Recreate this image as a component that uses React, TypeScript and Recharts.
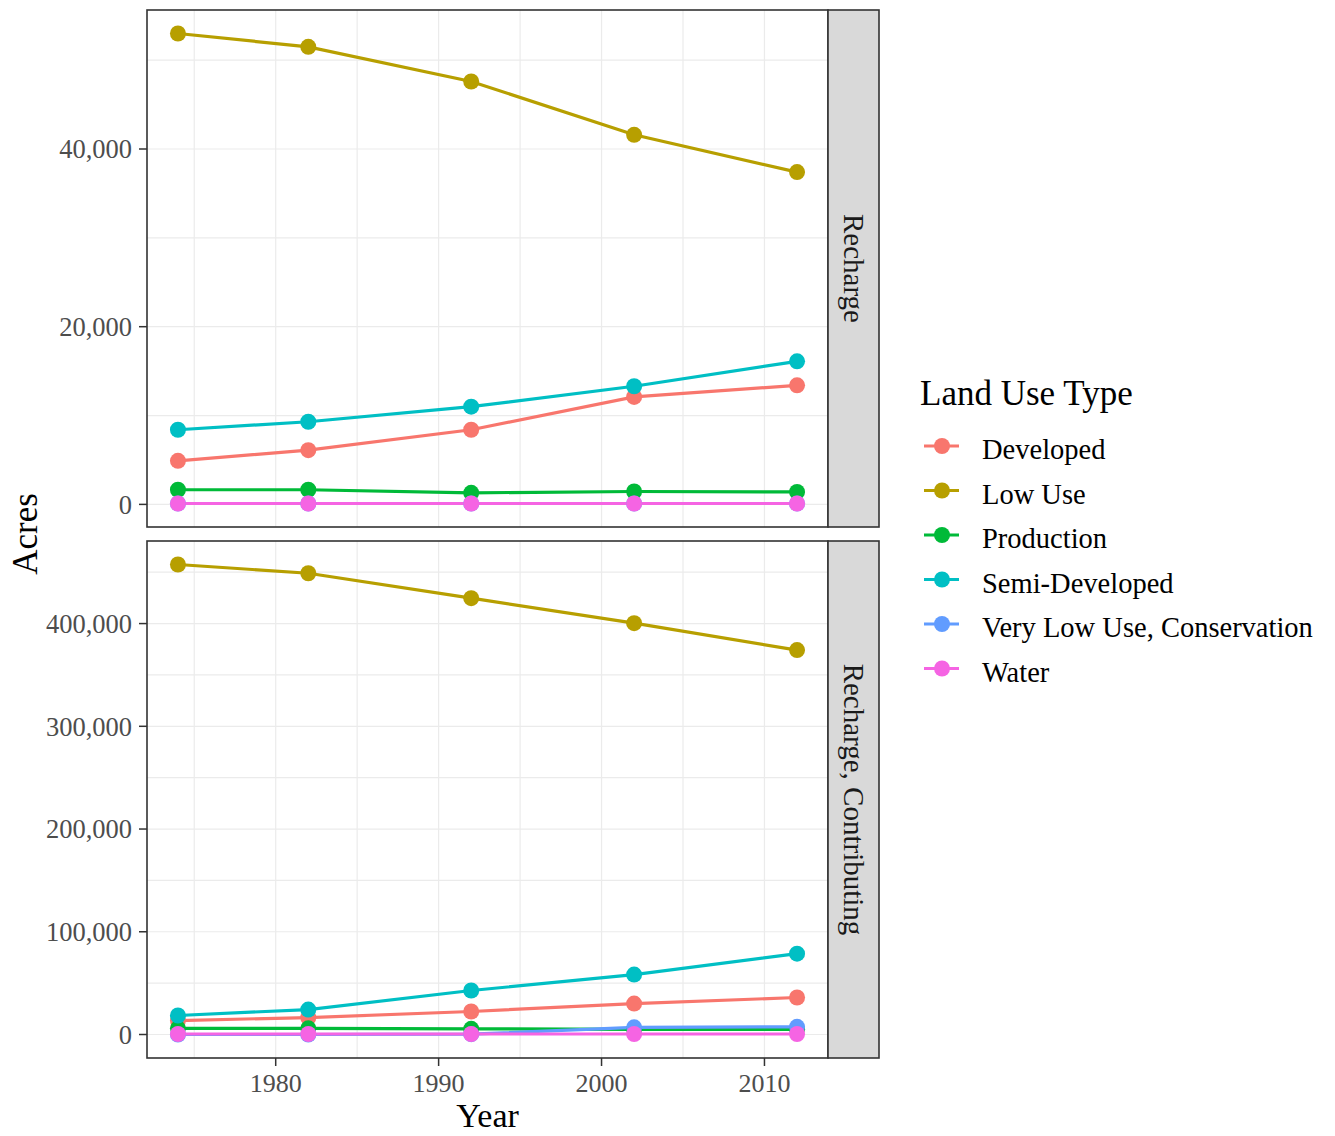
import React from "react";
import { LineChart, Line, XAxis, YAxis, CartesianGrid } from "recharts";

const years = [1974, 1982, 1992, 2002, 2012];
const seriesKeys = ["developed", "lowUse", "production", "semiDeveloped", "veryLowUse", "water"];
const seriesNames = ["Developed", "Low Use", "Production", "Semi-Developed", "Very Low Use, Conservation", "Water"];
const seriesColors = ["#F8766D", "#B79F00", "#00BA38", "#00BFC4", "#619CFF", "#F564E3"];

// Panel "Recharge"
const rechargeDeveloped = [4900, 6100, 8400, 12100, 13400];
const rechargeLowUse = [53000, 51500, 47600, 41600, 37400];
const rechargeProduction = [1650, 1650, 1300, 1450, 1400];
const rechargeSemiDeveloped = [8400, 9300, 11000, 13300, 16100];
const rechargeVeryLowUse = [100, 100, 100, 100, 100];
const rechargeWater = [100, 100, 100, 100, 100];

// Panel "Recharge, Contributing"
const contribDeveloped = [13600, 16500, 22400, 30100, 36000];
const contribLowUse = [457500, 449000, 424700, 400400, 374200];
const contribProduction = [6000, 6000, 5500, 5000, 5000];
const contribSemiDeveloped = [18500, 24300, 42800, 58300, 78700];
const contribVeryLowUse = [0, 0, 300, 7000, 7500];
const contribWater = [500, 500, 500, 500, 500];

const xTicks = [1980, 1990, 2000, 2010];
const xGrid = [1975, 1980, 1985, 1990, 1995, 2000, 2005, 2010];
const rechargeTicks = [0, 20000, 40000];
const rechargeGrid = [0, 10000, 20000, 30000, 40000, 50000];
const contribTicks = [0, 100000, 200000, 300000, 400000];
const contribGrid = [0, 50000, 100000, 150000, 200000, 250000, 300000, 350000, 400000, 450000];
const stripLabels = ["Recharge", "Recharge, Contributing"];

const FONT = "'Liberation Serif', 'Times New Roman', serif";

function buildRows(cols: number[][]) {
  return years.map((y, i) => {
    const row: Record<string, number> = { year: y };
    seriesKeys.forEach((k, j) => (row[k] = cols[j][i]));
    return row;
  });
}

function expandDomain(cols: number[][]): [number, number] {
  const all = cols.flat();
  const mn = Math.min(...all);
  const mx = Math.max(...all);
  const r = mx - mn;
  return [mn - 0.05 * r, mx + 0.05 * r];
}

const xr = years[years.length - 1] - years[0];
const xDomain: [number, number] = [years[0] - 0.05 * xr, years[years.length - 1] + 0.05 * xr];

const rechargeCols = [rechargeDeveloped, rechargeLowUse, rechargeProduction, rechargeSemiDeveloped, rechargeVeryLowUse, rechargeWater];
const contribCols = [contribDeveloped, contribLowUse, contribProduction, contribSemiDeveloped, contribVeryLowUse, contribWater];
const rechargeRows = buildRows(rechargeCols);
const contribRows = buildRows(contribCols);

const fmt = (v: number) => v.toLocaleString("en-US");

function Panel(props: {
  rows: any[];
  domain: [number, number];
  ticks: number[];
  grid: number[];
  showX: boolean;
  height: number;
  bottom: number;
}) {
  const { rows, domain, ticks, grid, showX, height, bottom } = props;
  return (
    <LineChart
      width={880}
      height={height}
      data={rows}
      margin={{ top: 10, right: 52, left: 0, bottom }}
    >
      <CartesianGrid
        stroke="#EBEBEB"
        strokeWidth={1.2}
        horizontalValues={grid}
        verticalValues={xGrid}
      />
      <XAxis
        dataKey="year"
        type="number"
        domain={xDomain}
        allowDataOverflow
        ticks={xTicks}
        hide={!showX}
        axisLine={false}
        tickLine={{ stroke: "#333333", strokeWidth: 1.5 }}
        tickSize={8}
        tickMargin={8}
        height={44}
        tick={{ fill: "#4D4D4D", fontSize: 26, fontFamily: FONT }}
      />
      <YAxis
        type="number"
        domain={domain}
        allowDataOverflow
        ticks={ticks}
        width={147}
        axisLine={false}
        tickLine={{ stroke: "#333333", strokeWidth: 1.5 }}
        tickSize={8}
        tickMargin={7}
        tickFormatter={fmt}
        tick={{ fill: "#4D4D4D", fontSize: 26.5, fontFamily: FONT }}
      />
      {seriesKeys.map((k, i) => (
        <Line
          key={"l" + k}
          dataKey={k}
          stroke={seriesColors[i]}
          strokeWidth={3.2}
          dot={false}
          activeDot={false}
          isAnimationActive={false}
          legendType="none"
        />
      ))}
      {seriesKeys.map((k, i) => (
        <Line
          key={"p" + k}
          dataKey={k}
          stroke="none"
          dot={{ r: 8, fill: seriesColors[i], stroke: "none" }}
          activeDot={false}
          isAnimationActive={false}
          legendType="none"
        />
      ))}
    </LineChart>
  );
}

export default function App() {
  const panels = [
    { top: 10, label: stripLabels[0] },
    { top: 541, label: stripLabels[1] },
  ];
  return (
    <div style={{ position: "absolute", left: 0, top: 0, width: 1335, height: 1136, background: "#fff" }}>
      <div style={{ position: "absolute", left: 0, top: 0 }}>
        <Panel rows={rechargeRows} domain={expandDomain(rechargeCols)} ticks={rechargeTicks} grid={rechargeGrid} showX={false} height={540} bottom={13} />
      </div>
      <div style={{ position: "absolute", left: 0, top: 531 }}>
        <Panel rows={contribRows} domain={expandDomain(contribCols)} ticks={contribTicks} grid={contribGrid} showX={true} height={605} bottom={34} />
      </div>
      <svg
        width={1335}
        height={1136}
        style={{ position: "absolute", left: 0, top: 0, pointerEvents: "none" }}
        fontFamily={FONT}
      >
        {panels.map((p, i) => (
          <g key={i}>
            <rect x={147} y={p.top} width={681} height={517} fill="none" stroke="#333333" strokeWidth={1.6} />
            <rect x={828} y={p.top} width={51} height={517} fill="#D9D9D9" stroke="#333333" strokeWidth={1.6} />
            <text
              x={853.5}
              y={p.top + 258.5}
              fontSize={29}
              fill="#1A1A1A"
              textAnchor="middle"
              dominantBaseline="central"
              transform={`rotate(90, 853.5, ${p.top + 258.5})`}
            >
              {p.label}
            </text>
          </g>
        ))}
        <text x={487.5} y={1127} fontSize={34} fill="#000" textAnchor="middle">
          Year
        </text>
        <text
          x={25}
          y={534}
          fontSize={35}
          fill="#000"
          textAnchor="middle"
          dominantBaseline="central"
          transform="rotate(-90, 25, 534)"
        >
          Acres
        </text>
        <text x={920} y={405} fontSize={35} fill="#000">
          Land Use Type
        </text>
        {seriesNames.map((n, i) => {
          const cy = 446 + i * 44.5;
          return (
            <g key={n}>
              <line x1={924} x2={959} y1={cy} y2={cy} stroke={seriesColors[i]} strokeWidth={3.2} />
              <circle cx={942} cy={cy} r={8} fill={seriesColors[i]} />
              <text x={982} y={cy + 13} fontSize={28.5} fill="#000">
                {n}
              </text>
            </g>
          );
        })}
      </svg>
    </div>
  );
}
